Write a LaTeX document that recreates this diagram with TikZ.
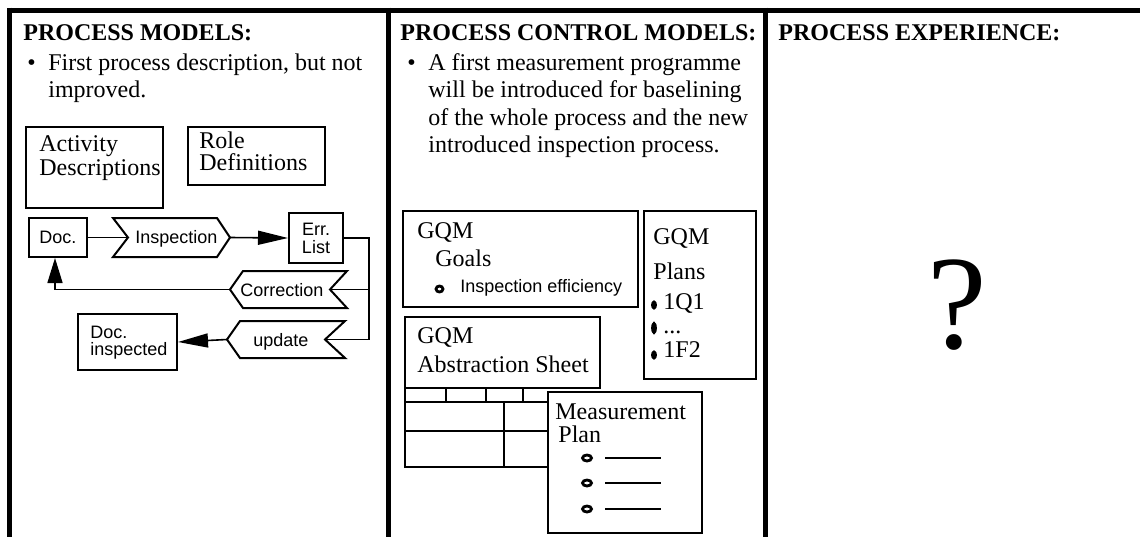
\documentclass[tikz,border=0pt]{standalone}
\usepackage{fontspec}
\setmainfont{Liberation Serif}
\newfontfamily\arialfont{Liberation Sans}
\usetikzlibrary{arrows.meta}

\begin{document}
\begin{tikzpicture}[x=0.5pt,y=-0.5pt,
  frame/.style={line width=2.5pt},
  box/.style={draw,line width=1pt,inner sep=0pt},
  wire/.style={line width=0.8pt},
  head/.style={font=\fontsize{12}{14}\selectfont\bfseries,anchor=base west,inner sep=0pt},
  txt/.style={font=\fontsize{12}{14}\selectfont,anchor=base west,inner sep=0pt},
  lbl/.style={font=\arialfont\fontsize{9}{9}\selectfont,inner sep=0pt},
  lblw/.style={lbl,anchor=base west},
  bigtip/.style={-{Triangle[length=15pt,width=7pt]}},
  uptip/.style={-{Triangle[length=12.5pt,width=7.5pt]}},
  dotmark/.style={line width=1.4pt}
]
\useasboundingbox (0,0) rectangle (1140,536);

% outer frame and column dividers
\draw[frame] (7,10) -- (1141,10);
\draw[frame] (9.5,7.5) -- (9.5,540);
\draw[frame] (388.5,7.5) -- (388.5,540);
\draw[frame] (765.5,7.5) -- (765.5,540);

% column headings
\node[head] (h1) at (23,40) {PROCESS MODELS:};
\node[head] (h2) at (400,40) {PROCESS CONTROL MODELS:};
\node[head] (h3) at (778,40) {PROCESS EXPERIENCE:};

% ---------- process models ----------
\node[txt] (b1) at (27,70) {•};
\node[txt] (p1a) at (48,70) {First process description, but not};
\node[txt] (p1b) at (48,97) {improved.};

\node[box,minimum width=68.5pt,minimum height=40.5pt] (actbox) at (94.5,167.5) {};
\node[txt] (act1) at (39,151) {Activity};
\node[txt] (act2) at (39,175) {Descriptions};

\node[box,minimum width=68.5pt,minimum height=29pt] (rolebox) at (256.5,156) {};
\node[txt] (role1) at (199,148) {Role};
\node[txt] (role2) at (199,170) {Definitions};

\node[box,lbl,minimum width=29pt,minimum height=19.5pt] (doc) at (58,237.5) {Doc.};

% inspection step
\draw[line width=1pt] (113,218) -- (217,218) -- (230,237.5) -- (217,257) -- (113,257) -- (128,237.5) -- cycle;
\coordinate (insp-in) at (128,237.5);
\coordinate (insp-out) at (230,237.5);
\node[lblw] (insp) at (135,243) {Inspection};

\node[box,lbl,align=center,minimum width=27pt,minimum height=25pt] (err) at (316,238) {Err.\\List};

% correction step
\draw[line width=1pt] (243,271) -- (347,271) -- (330,289.5) -- (347,308) -- (243,308) -- (230,289.5) -- cycle;
\coordinate (corr-in) at (330,289.5);
\coordinate (corr-out) at (230,289.5);
\node[lblw] (corr) at (240,296) {Correction};

% update step
\draw[line width=1pt] (240,321) -- (345,321) -- (325,339.5) -- (345,358) -- (240,358) -- (227,339.5) -- cycle;
\coordinate (upd-in) at (325,339.5);
\coordinate (upd-out) at (227,339.5);
\node[lblw] (upd) at (253,346) {update};

\node[box,minimum width=49.5pt,minimum height=28pt] (docin) at (127.5,342) {};
\node[lblw] (docin1) at (90,338) {Doc.};
\node[lblw] (docin2) at (90,355) {inspected};

\coordinate (bus) at (369,339.5);
\draw[wire] (doc.east) -- (insp-in);
\draw[wire,bigtip] (insp-out) -- (err.west);
\draw[wire] (err.east) -| (bus) -- (upd-in);
\draw[wire] (bus |- corr-in) -- (corr-in);
\draw[wire,uptip] (corr-out) -| ([xshift=-1.5pt]doc.south);
\draw[wire,bigtip] (upd-out) -- (docin.east);

% ---------- process control models ----------
\node[txt] (b2) at (407,70) {•};
\node[txt] (p2a) at (428,70) {A first measurement programme};
\node[txt] (p2b) at (428,97.5) {will be introduced for baselining};
\node[txt] (p2c) at (428,125) {of the whole process and the new};
\node[txt] (p2d) at (428,152.5) {introduced inspection process.};

% GQM goals
\node[box,minimum width=117.5pt,minimum height=48pt] (goals) at (520.5,259) {};
\node[txt] (goals1) at (417,238) {GQM};
\node[txt] (goals2) at (435,266) {Goals};
\draw[dotmark] (439.5,289) ellipse [x radius=3.5,y radius=3];
\node[lblw] (goals3) at (460,292) {Inspection efficiency};

% GQM plans
\node[box,minimum width=56pt,minimum height=84pt] (plans) at (700,295) {};
\node[txt] (plans1) at (653,244) {GQM};
\node[txt] (plans2) at (653,279) {Plans};
\draw[dotmark] (654,305) ellipse [x radius=1.5,y radius=3];
\draw[dotmark] (654,328) ellipse [x radius=1.5,y radius=4.5];
\draw[dotmark] (654,355) ellipse [x radius=1.5,y radius=3];
\node[txt] (plans3) at (663,309) {1Q1};
\node[txt] (plans4) at (663,333) {...};
\node[txt] (plans5) at (663,357) {1F2};

% GQM abstraction sheet with its grid
\draw[line width=1pt] (405,388) -- (405,467) -- (590,467) -- (590,402);
\draw[line width=1pt] (405,402) -- (590,402);
\draw[line width=1pt] (405,431) -- (590,431);
\draw[line width=1pt] (504,402) -- (504,467);
\foreach \gx in {446,486,523} \draw[line width=1pt] (\gx,388) -- (\gx,402);
\node[box,fill=white,minimum width=97.5pt,minimum height=35.5pt] (abs) at (502.5,352.5) {};
\node[txt] (abs1) at (417,343) {GQM};
\node[txt] (abs2) at (417,372) {Abstraction Sheet};

% measurement plan
\node[box,fill=white,minimum width=77pt,minimum height=70.5pt] (mplan) at (625,462.5) {};
\node[txt] (mp1) at (555,419) {Measurement};
\node[txt] (mp2) at (558,442) {Plan};
\foreach \my in {458,483,509} {
  \draw[dotmark] (587,\my) ellipse [x radius=4.5,y radius=3];
  \draw[line width=1pt] (605,\my) -- (661,\my);
}

% ---------- process experience ----------
\node[font=\fontsize{67}{67}\selectfont,anchor=base,inner sep=0pt] (qmark) at (957,348) {?};
\end{tikzpicture}
\end{document}
